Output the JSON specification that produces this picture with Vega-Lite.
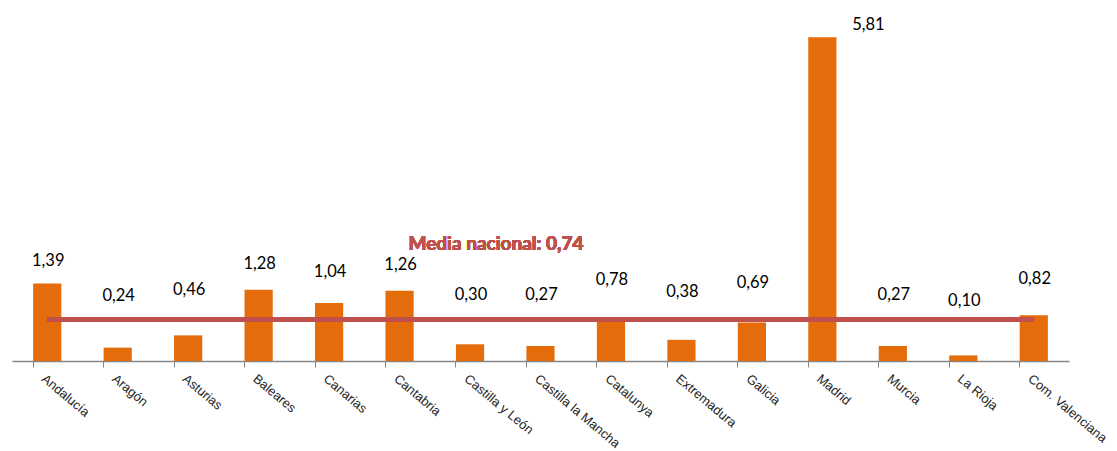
{
  "$schema": "https://vega.github.io/schema/vega-lite/v6.json",
  "autosize": "none",
  "width": 1057,
  "height": 351,
  "padding": {"left": 12, "top": 10, "right": 48, "bottom": 90},
  "background": "white",
  "config": {
    "view": {"stroke": null},
    "locale": {"number": {"decimal": ",", "thousands": ".", "grouping": [3], "currency": ["", " €"]}}
  },
  "data": {
    "values": [
      {"region": "Andalucía", "valor": 1.39},
      {"region": "Aragón", "valor": 0.24},
      {"region": "Asturias", "valor": 0.46},
      {"region": "Baleares", "valor": 1.28},
      {"region": "Canarias", "valor": 1.04},
      {"region": "Cantabria", "valor": 1.26},
      {"region": "Castilla y León", "valor": 0.30},
      {"region": "Castilla la Mancha", "valor": 0.27},
      {"region": "Catalunya", "valor": 0.78},
      {"region": "Extremadura", "valor": 0.38},
      {"region": "Galicia", "valor": 0.69},
      {"region": "Madrid", "valor": 5.81},
      {"region": "Murcia", "valor": 0.27},
      {"region": "La Rioja", "valor": 0.10},
      {"region": "Com. Valenciana", "valor": 0.82}
    ]
  },
  "encoding": {
    "x": {
      "field": "region",
      "type": "nominal",
      "sort": null,
      "scale": {"paddingInner": 0.6, "paddingOuter": 0.3},
      "axis": {
        "title": null,
        "bandPosition": 0,
        "labelAngle": 40,
        "labelAlign": "left",
        "labelBaseline": "top",
        "labelPadding": 5,
        "labelFont": "Liberation Sans",
        "labelFontSize": 13,
        "labelColor": "#262626",
        "domainColor": "#868686",
        "domainWidth": 1.5,
        "tickColor": "#868686",
        "tickSize": 6,
        "labelOverlap": false
      }
    }
  },
  "resolve": {"scale": {"y": "independent"}},
  "layer": [
    {
      "mark": {"type": "bar", "color": "#E46C0A"},
      "encoding": {
        "y": {"field": "valor", "type": "quantitative", "scale": {"domain": [0, 6.3], "nice": false, "zero": false}, "axis": null}
      }
    },
    {
      "mark": {"type": "rule", "color": "#C0504D", "strokeWidth": 4},
      "encoding": {
        "x": {"datum": "Andalucía"},
        "x2": {"datum": "Com. Valenciana"},
        "y": {"datum": 0.74, "type": "quantitative", "scale": {"domain": [0, 6.3], "nice": false, "zero": false}, "axis": null}
      }
    },
    {
      "transform": [{"filter": "datum.valor < 5"}],
      "mark": {"type": "text", "font": "Lato", "fontSize": 16.5, "color": "#000000", "dx": 1},
      "encoding": {
        "y": {"field": "valor", "type": "quantitative", "scale": {"domain": [-1.85, 9.51], "nice": false, "zero": false}, "axis": null},
        "text": {"field": "valor", "type": "quantitative", "format": ".2f"}
      }
    },
    {
      "transform": [{"filter": "datum.valor >= 5"}],
      "mark": {"type": "text", "font": "Lato", "fontSize": 16.5, "color": "#000000", "dy": -12, "dx": 46},
      "encoding": {
        "y": {"field": "valor", "type": "quantitative", "scale": {"domain": [0, 6.3], "nice": false, "zero": false}, "axis": null},
        "text": {"field": "valor", "type": "quantitative", "format": ".2f"}
      }
    },
    {
      "mark": {"type": "text", "font": "Lato", "fontSize": 19, "fontWeight": "bold", "color": "#C0504D", "dx": 26},
      "encoding": {
        "x": {"datum": "Castilla y León"},
        "y": {"datum": 2.1, "type": "quantitative", "scale": {"domain": [0, 6.3], "nice": false, "zero": false}, "axis": null},
        "text": {"value": "Media nacional: 0,74"}
      }
    }
  ]
}
